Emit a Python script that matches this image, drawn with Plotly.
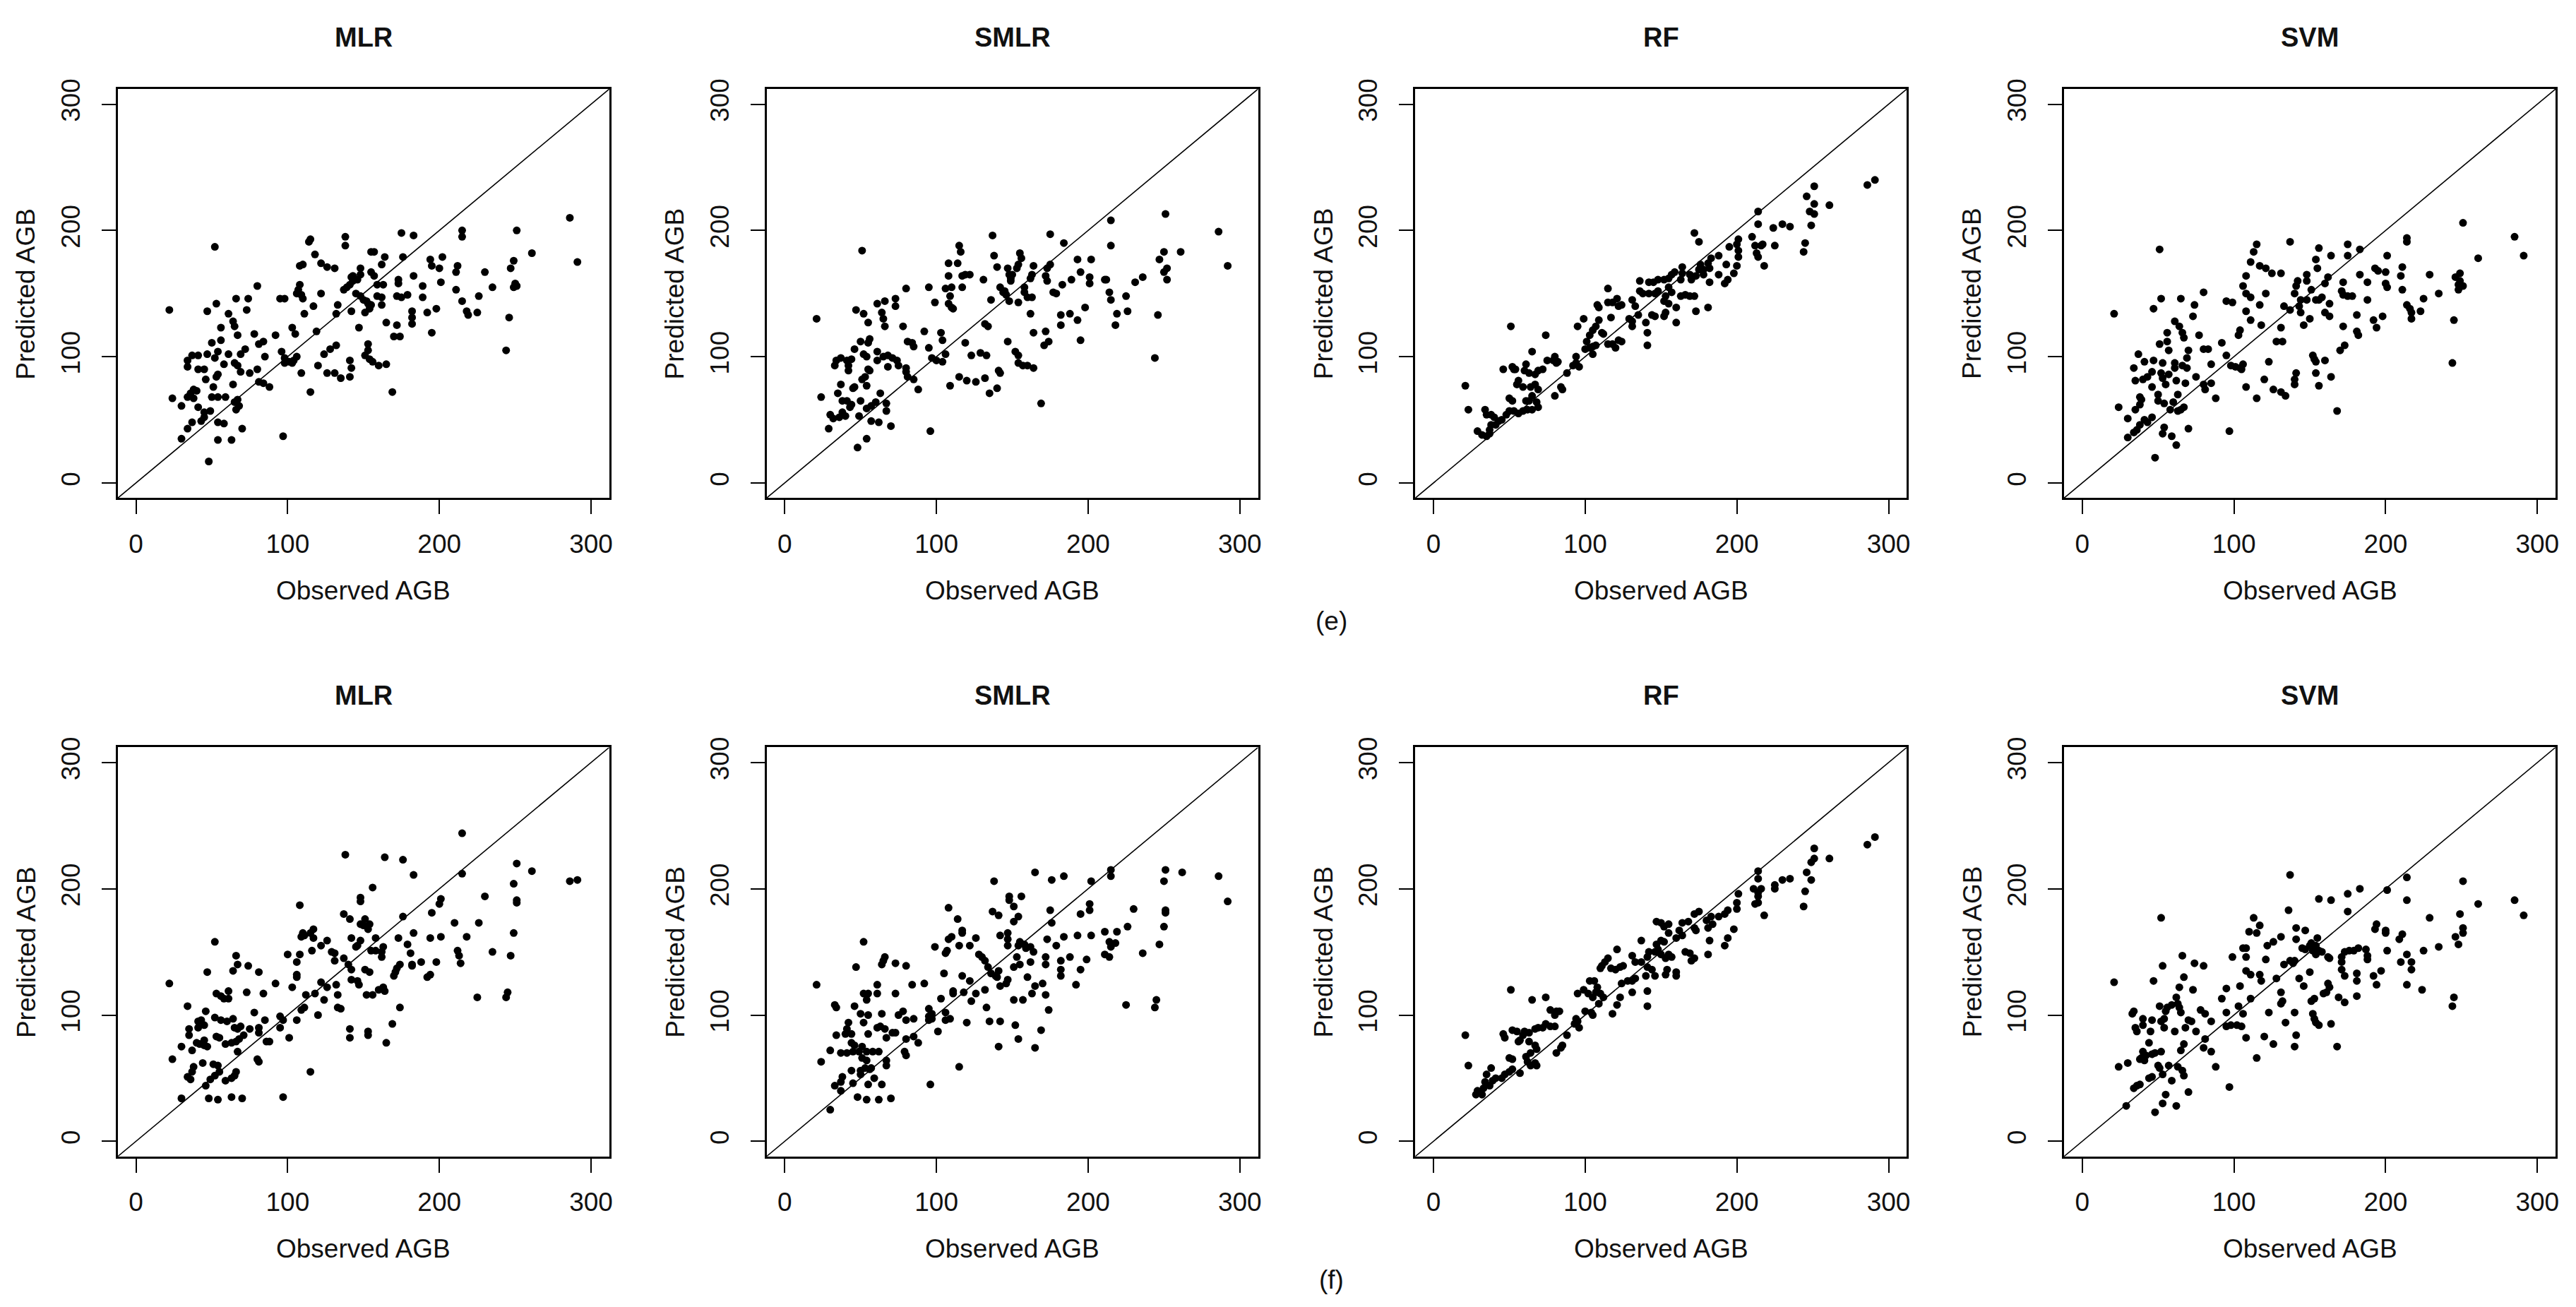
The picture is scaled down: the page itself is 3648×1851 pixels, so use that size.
import plotly.graph_objects as go

# ---------------- data ----------------
AX_RANGE = [-12, 312]
TICKS = [0, 100, 200, 300]
MODELS = ["MLR", "SMLR", "RF", "SVM"]
ROW_LABELS = ["(e)", "(f)"]
X_TITLE = "Observed AGB"
Y_TITLE = "Predicted AGB"

# (observed, predicted) pairs
MLR_E = [(286,210),(291,175),(261,182),(251,200),(249,176),(247,170),(250,158),(249,155),(251,156),(246,131),(244,105),(235,155),(230,167),(226,148),(225,135),(218,136),(219,133),(215,144),(211,153),(212,172),(211,167),(215,200),(215,195),(202,179),(200,170),(194,177),(195,172),(201,159),(198,138),(192,135),(195,119),(189,156),(189,147),(183,164),(183,196),(175,198),(176,179),(173,161),(173,158),(172,148),(175,147),(179,149),(182,136),(182,131),(182,126),(172,125),(170,116),(174,116),(165,127),(169,72),(164,179),(162,173),(155,183),(157,183),(155,167),(157,164),(159,157),(163,157),(162,141),(159,148),(162,147),(155,141),(154,138),(151,135),(148,170),(148,165),(146,161),(143,160),(141,157),(139,155),(137,153),(142,163),(143,164),(145,150),(148,148),(150,145),(152,144),(153,142),(142,136),(147,123),(138,195),(138,188),(131,170),(126,171),(122,174),(118,181),(115,193),(114,191),(110,173),(108,172),(108,157),(107,153),(106,150),(109,149),(110,146),(111,134),(117,140),(122,150),(133,141),(132,134),(119,120),(98,146),(95,146),(103,123),(105,118),(92,117),(96,104),(98,99),(101,96),(104,97),(106,100),(103,95),(98,95),(85,100),(80,90),(81,110),(84,112),(78,118),(80,156),(74,146),(73,137),(66,146),(61,134),(64,128),(65,124),(67,117),(53,142),(47,136),(52,187),(22,137),(24,67),(30,61),(30,35),(34,43),(37,48),(34,97),(37,101),(41,101),(34,92),(41,90),(45,90),(50,111),(56,123),(56,113),(47,102),(52,99),(54,104),(58,94),(61,102),(65,95),(69,102),(72,106),(67,93),(69,88),(54,86),(53,84),(46,82),(51,76),(38,74),(40,73),(36,71),(34,68),(38,67),(50,68),(54,68),(59,68),(65,64),(67,66),(68,61),(66,58),(41,60),(45,56),(49,57),(45,52),(43,49),(54,48),(58,47),(64,78),(75,87),(81,80),(84,79),(88,76),(54,34),(63,34),(70,43),(97,37),(48,17),(115,72),(109,87),(120,93),(124,102),(128,106),(132,109),(126,87),(131,87),(135,83),(141,84),(142,91),(141,97),(153,110),(153,105),(151,101),(154,98),(156,96),(160,93),(165,94)]

SMLR_E = [(251,213),(286,199),(292,172),(261,183),(250,183),(247,177),(252,170),(250,167),(252,161),(246,133),(244,99),(236,163),(231,159),(225,148),(226,136),(215,208),(215,188),(211,161),(212,161),(214,151),(215,145),(219,134),(218,125),(202,177),(193,177),(195,167),(201,163),(201,158),(189,161),(198,139),(193,129),(195,113),(188,134),(182,133),(182,125),(175,197),(184,190),(175,173),(173,170),(172,164),(173,160),(183,157),(177,151),(179,150),(164,172),(163,165),(162,162),(155,182),(156,178),(154,173),(153,170),(150,165),(149,162),(147,170),(148,165),(149,160),(142,155),(144,151),(146,149),(148,144),(145,152),(158,155),(158,151),(160,147),(163,147),(154,143),(136,145),(138,180),(137,196),(140,171),(131,161),(122,165),(119,165),(117,164),(117,155),(114,174),(108,174),(115,188),(116,183),(108,164),(106,154),(110,155),(109,148),(108,142),(110,139),(111,138),(99,143),(95,155),(80,154),(73,146),(73,140),(66,144),(64,135),(65,130),(66,124),(61,142),(55,127),(52,134),(47,137),(51,184),(21,130),(78,124),(92,120),(103,119),(104,113),(119,111),(132,126),(134,124),(147,112),(164,119),(172,120),(174,112),(171,109),(162,134),(81,112),(84,111),(85,108),(95,107),(97,99),(100,97),(104,96),(106,102),(56,114),(55,111),(50,112),(46,106),(52,102),(54,100),(61,104),(61,97),(65,100),(68,101),(71,99),(74,97),(75,93),(55,90),(56,89),(68,92),(44,98),(41,97),(34,97),(33,93),(37,99),(42,93),(42,89),(51,82),(53,84),(54,77),(46,76),(45,75),(37,78),(35,71),(24,68),(38,65),(41,65),(44,62),(43,60),(50,65),(63,71),(60,64),(57,61),(54,59),(67,63),(67,57),(80,91),(80,88),(81,84),(85,82),(88,74),(30,54),(32,51),(36,52),(40,53),(38,56),(49,53),(57,49),(62,48),(70,45),(29,43),(54,35),(48,28),(96,41),(109,77),(115,84),(120,81),(126,80),(132,83),(123,101),(129,103),(133,101),(141,89),(142,87),(135,71),(140,75),(152,104),(154,101),(154,95),(157,93),(160,93),(164,91),(169,63)]

RF_E = [(291,240),(286,236),(251,235),(246,227),(251,221),(248,215),(251,213),(249,204),(261,220),(245,190),(244,183),(235,203),(230,205),(224,202),(214,215),(214,205),(210,195),(212,188),(216,188),(217,189),(213,182),(214,179),(218,172),(225,188),(201,193),(200,189),(201,184),(201,179),(195,187),(193,173),(200,172),(198,166),(194,161),(192,158),(188,180),(183,178),(181,174),(182,170),(188,165),(182,159),(178,169),(178,165),(176,173),(175,169),(173,164),(172,198),(175,191),(170,161),(169,165),(164,171),(164,166),(163,161),(159,167),(157,165),(155,162),(152,161),(148,161),(145,159),(142,159),(136,160),(136,152),(138,150),(142,150),(146,150),(148,152),(155,155),(157,151),(153,148),(152,144),(155,142),(163,148),(166,149),(169,148),(172,148),(160,139),(173,136),(181,139),(153,135),(152,132),(146,132),(160,127),(144,133),(140,127),(141,119),(141,109),(131,145),(133,140),(129,130),(131,128),(131,124),(135,133),(121,146),(124,141),(122,140),(118,143),(115,143),(115,154),(109,139),(108,141),(117,131),(109,129),(107,124),(105,121),(103,117),(99,130),(95,124),(111,119),(112,118),(101,112),(105,108),(107,109),(103,107),(105,102),(100,106),(115,110),(118,110),(120,107),(124,112),(122,113),(94,100),(94,95),(96,92),(92,93),(88,87),(84,76),(85,74),(80,69),(74,117),(65,104),(51,124),(80,100),(79,97),(81,95),(82,96),(75,97),(72,90),(69,89),(67,86),(63,87),(61,94),(60,89),(52,92),(54,90),(53,90),(46,90),(56,81),(55,78),(59,76),(64,76),(67,78),(69,74),(65,69),(63,65),(61,65),(68,64),(69,60),(65,58),(62,58),(59,57),(56,55),(53,57),(50,57),(48,54),(50,67),(52,65),(21,77),(23,58),(34,58),(35,54),(38,54),(40,52),(43,49),(45,50),(41,46),(38,46),(37,42),(29,41),(32,38),(35,37),(37,39)]

SVM_E = [(251,206),(285,195),(291,180),(261,178),(249,166),(249,160),(248,157),(251,156),(248,153),(246,163),(245,129),(244,95),(235,150),(229,165),(225,146),(223,136),(214,194),(214,191),(211,171),(210,164),(211,153),(214,141),(216,138),(217,135),(217,130),(201,180),(193,170),(195,168),(200,167),(200,158),(201,155),(188,159),(188,145),(198,132),(192,129),(194,123),(183,185),(175,189),(175,180),(183,165),(172,159),(171,152),(172,149),(175,148),(178,148),(181,133),(172,124),(181,120),(182,117),(173,109),(170,105),(168,57),(164,180),(162,163),(160,158),(156,186),(154,177),(155,170),(148,165),(148,160),(142,160),(141,156),(140,150),(144,145),(148,145),(151,153),(154,145),(156,145),(158,147),(163,142),(160,135),(163,132),(150,130),(146,125),(143,140),(144,135),(137,137),(133,140),(137,191),(131,166),(125,166),(121,170),(117,172),(111,175),(113,183),(115,189),(108,164),(106,156),(108,150),(111,147),(121,150),(117,141),(108,136),(111,129),(118,125),(104,121),(103,117),(95,144),(99,143),(92,111),(95,101),(98,93),(101,92),(104,91),(106,94),(105,90),(131,123),(128,112),(132,112),(123,96),(108,76),(120,82),(126,74),(131,72),(134,69),(140,78),(140,82),(141,87),(152,101),(153,98),(154,96),(160,97),(154,87),(156,77),(164,84),(115,67),(97,41),(80,151),(74,141),(73,132),(77,117),(83,106),(80,106),(85,94),(65,146),(52,146),(47,138),(51,185),(21,134),(61,128),(64,124),(66,119),(67,115),(56,119),(56,112),(51,110),(57,105),(70,105),(37,102),(41,96),(47,97),(53,95),(61,95),(66,93),(69,99),(69,91),(34,91),(35,81),(40,82),(43,84),(46,88),(52,87),(53,83),(55,78),(57,86),(61,91),(62,81),(68,79),(75,84),(80,78),(81,74),(85,79),(88,67),(46,76),(38,68),(39,66),(38,62),(50,70),(50,65),(54,63),(60,64),(58,58),(63,70),(67,60),(65,58),(63,57),(24,60),(30,51),(35,58),(41,50),(43,48),(46,52),(38,46),(36,42),(34,40),(30,36),(54,44),(53,39),(59,37),(70,43),(62,30),(48,20)]

MLR_F = [(215,244),(138,227),(164,225),(176,223),(183,211),(215,212),(251,220),(261,214),(286,206),(291,207),(249,204),(251,191),(251,189),(230,194),(249,165),(247,147),(245,118),(244,114),(225,114),(235,150),(226,173),(218,162),(210,173),(212,151),(213,147),(214,141),(201,192),(200,188),(195,181),(201,162),(194,161),(198,142),(192,130),(194,132),(188,142),(182,140),(182,139),(183,165),(179,156),(181,149),(176,178),(173,161),(174,140),(172,137),(171,134),(170,131),(174,106),(169,93),(165,78),(163,122),(164,119),(160,120),(156,201),(158,161),(155,151),(158,151),(162,150),(163,154),(162,146),(151,176),(154,172),(153,168),(150,171),(148,172),(148,193),(148,190),(142,161),(137,180),(141,176),(148,159),(146,155),(145,154),(151,136),(154,134),(152,116),(156,116),(142,128),(146,127),(147,124),(140,140),(142,136),(137,145),(131,149),(131,143),(129,150),(126,159),(122,155),(117,161),(117,168),(115,165),(110,165),(109,162),(111,163),(108,187),(116,151),(108,148),(106,142),(100,148),(106,132),(106,130),(103,122),(92,125),(84,117),(81,134),(74,139),(67,140),(66,147),(64,135),(52,158),(47,134),(22,125),(34,107),(53,117),(56,115),(58,113),(61,119),(61,113),(73,118),(112,116),(118,117),(124,112),(122,126),(126,122),(132,124),(133,116),(111,106),(109,104),(106,96),(120,100),(133,106),(135,105),(95,99),(97,96),(95,90),(101,82),(85,96),(78,102),(81,90),(81,86),(75,89),(69,91),(67,89),(65,90),(71,84),(68,81),(66,79),(63,78),(59,77),(64,97),(60,95),(56,96),(52,98),(46,103),(53,83),(55,82),(41,95),(43,96),(45,92),(41,90),(35,89),(35,84),(40,78),(42,77),(45,80),(47,75),(45,76),(30,75),(37,72),(67,71),(86,79),(88,79),(80,65),(81,63),(24,65),(44,62),(51,61),(54,60),(55,55),(52,52),(49,49),(38,59),(37,55),(34,51),(36,49),(46,44),(59,48),(65,52),(66,55),(63,50),(30,34),(48,34),(54,33),(63,35),(70,34),(97,35),(115,55),(141,89),(141,82),(153,87),(153,84)]

SMLR_F = [(215,215),(215,210),(202,206),(251,215),(250,206),(262,213),(286,210),(292,190),(165,213),(176,207),(184,210),(138,206),(148,194),(148,191),(151,186),(154,178),(151,174),(156,194),(137,182),(141,179),(108,185),(114,176),(175,183),(176,173),(195,180),(201,188),(201,183),(230,184),(251,183),(251,181),(250,170),(226,170),(219,166),(211,166),(214,158),(218,157),(215,154),(202,163),(193,163),(184,162),(173,160),(179,155),(188,146),(199,144),(211,148),(214,146),(236,149),(247,156),(195,136),(192,124),(182,143),(182,136),(182,131),(172,146),(172,140),(162,142),(164,150),(162,154),(159,153),(158,156),(155,158),(154,155),(147,165),(147,160),(147,155),(142,163),(153,146),(151,138),(155,140),(160,130),(170,125),(165,123),(163,117),(172,116),(174,104),(141,135),(139,131),(140,130),(136,133),(134,138),(132,143),(130,146),(128,148),(147,128),(146,125),(142,123),(126,161),(122,155),(115,155),(117,165),(117,167),(110,162),(108,160),(107,151),(106,149),(99,154),(105,133),(117,131),(122,127),(132,120),(111,119),(118,118),(111,117),(126,117),(123,111),(103,113),(95,105),(97,101),(95,99),(97,97),(95,96),(106,102),(109,97),(106,96),(101,87),(92,125),(84,124),(80,139),(73,141),(66,146),(65,143),(64,140),(47,138),(52,158),(21,124),(61,124),(61,117),(55,117),(52,117),(54,112),(73,117),(33,108),(34,106),(46,107),(50,101),(55,100),(52,94),(64,101),(75,100),(78,103),(80,96),(85,97),(42,94),(41,89),(40,85),(44,85),(34,84),(55,85),(61,90),(63,91),(66,89),(67,82),(71,86),(73,86),(80,81),(85,83),(88,78),(44,78),(46,76),(51,75),(49,71),(45,71),(41,70),(37,70),(30,72),(54,71),(58,71),(62,71),(79,71),(80,68),(51,66),(54,64),(53,58),(56,57),(57,58),(50,56),(50,53),(67,64),(67,60),(24,63),(44,56),(38,51),(37,47),(33,44),(37,40),(45,46),(55,45),(59,50),(64,45),(48,35),(54,33),(62,33),(70,34),(30,25),(96,45),(115,59),(120,94),(135,95),(142,95),(152,92),(154,81),(141,75),(169,88),(165,74),(225,108),(245,112),(244,106),(151,112),(157,112),(133,106)]

RF_F = [(291,241),(286,235),(251,232),(251,224),(249,221),(261,224),(246,213),(249,207),(245,198),(244,186),(235,208),(230,207),(225,203),(225,200),(214,214),(214,208),(211,200),(214,197),(216,200),(214,194),(212,188),(214,189),(218,179),(201,196),(200,189),(200,184),(194,183),(192,180),(198,168),(194,161),(192,155),(188,178),(183,178),(180,175),(181,169),(184,172),(182,159),(181,148),(175,182),(172,180),(172,169),(173,167),(168,174),(164,173),(162,167),(160,161),(164,163),(155,172),(152,170),(150,173),(147,174),(155,165),(150,159),(147,156),(152,158),(148,152),(146,150),(150,148),(155,148),(153,145),(157,146),(166,150),(169,149),(172,145),(170,143),(142,150),(141,146),(137,159),(131,147),(133,142),(137,142),(141,138),(154,136),(153,132),(146,131),(144,136),(160,134),(160,131),(140,131),(133,129),(131,127),(128,127),(124,125),(121,152),(115,145),(113,142),(117,137),(120,136),(123,138),(125,139),(110,137),(111,139),(131,118),(141,119),(141,107),(123,114),(121,108),(118,101),(109,109),(112,114),(110,117),(107,118),(108,122),(106,127),(103,127),(99,120),(95,117),(102,117),(105,114),(100,103),(104,102),(105,100),(94,97),(95,95),(96,90),(93,93),(88,84),(85,76),(84,74),(81,70),(74,114),(65,112),(51,120),(77,104),(81,103),(80,100),(83,103),(74,93),(77,91),(80,91),(72,90),(69,90),(67,89),(63,86),(60,87),(59,84),(55,87),(52,88),(46,85),(47,82),(57,80),(56,79),(63,79),(67,76),(68,73),(64,70),(50,66),(52,65),(61,67),(62,63),(67,62),(68,60),(64,60),(57,54),(52,57),(50,55),(47,53),(45,50),(39,48),(41,50),(38,58),(35,53),(34,47),(37,44),(33,42),(29,40),(32,37),(28,37),(21,84),(23,60)]

SVM_F = [(137,211),(214,209),(251,206),(201,199),(183,200),(175,196),(156,192),(164,191),(214,191),(285,191),(261,188),(291,179),(249,180),(229,177),(136,183),(175,182),(113,177),(117,171),(115,165),(110,166),(141,169),(147,167),(141,160),(131,162),(126,158),(122,155),(108,153),(106,153),(108,146),(99,146),(121,144),(108,135),(111,132),(117,132),(118,127),(104,123),(95,121),(92,113),(111,113),(128,129),(133,140),(137,143),(140,143),(139,141),(143,129),(146,123),(150,134),(147,152),(150,155),(152,151),(151,157),(154,155),(155,161),(156,151),(158,150),(154,148),(145,153),(162,146),(163,145),(173,150),(176,151),(179,151),(182,153),(187,152),(188,147),(188,144),(171,146),(171,142),(171,136),(173,131),(181,133),(181,127),(181,115),(194,172),(193,168),(200,167),(200,165),(201,151),(197,135),(192,131),(194,124),(211,164),(209,160),(214,148),(210,142),(217,142),(217,136),(214,124),(224,120),(225,151),(235,154),(246,162),(251,165),(251,169),(248,156),(245,114),(244,107),(162,125),(163,122),(159,117),(161,118),(153,113),(151,111),(169,114),(173,110),(131,118),(132,111),(131,109),(123,102),(140,102),(152,101),(153,97),(154,94),(156,92),(164,93),(134,94),(141,84),(140,75),(168,75),(126,77),(120,83),(108,82),(115,66),(95,91),(98,92),(102,92),(105,91),(95,102),(106,101),(103,107),(97,43),(88,59),(85,71),(80,74),(81,81),(75,87),(85,95),(81,101),(78,104),(73,120),(80,139),(74,141),(66,147),(67,130),(53,139),(47,127),(52,177),(21,126),(64,122),(62,114),(63,109),(64,106),(65,102),(59,108),(56,106),(55,103),(51,107),(70,96),(72,95),(68,90),(54,97),(52,95),(54,90),(61,87),(46,96),(40,97),(40,92),(45,87),(34,103),(33,101),(35,90),(36,87),(44,78),(40,71),(39,66),(41,64),(38,65),(42,68),(46,69),(48,70),(52,71),(57,60),(63,59),(66,56),(67,52),(50,60),(51,58),(53,53),(46,51),(44,50),(65,72),(67,77),(24,59),(30,62),(34,42),(36,44),(38,45),(29,28),(59,48),(55,37),(53,30),(62,28),(70,39),(48,23)]

PANELS = [[MLR_E, SMLR_E, RF_E, SVM_E], [MLR_F, SMLR_F, RF_F, SVM_F]]

# ---------------- layout geometry (pixels) ----------------
W, H = 3648, 1851
BOX_L0, BOX_W, COL_STEP = 167, 697, 920
ROW_TOP, BOX_H = [112, 1052], 584
FONT = "Liberation Sans, Arial, Helvetica, sans-serif"
FS = 37

def px_x(p):
    return p / W

def px_y(p):
    return 1 - p / H

fig = go.Figure()
layout = {}
annotations = []
for r in range(2):
    top = ROW_TOP[r]
    bottom = top + BOX_H
    for c in range(4):
        k = r * 4 + c + 1
        sfx = "" if k == 1 else str(k)
        left = BOX_L0 + c * COL_STEP
        right = left + BOX_W
        pts = PANELS[r][c]
        xs = [p[0] for p in pts]
        ys = [p[1] for p in pts]
        fig.add_trace(go.Scatter(
            x=AX_RANGE, y=AX_RANGE, mode="lines",
            line=dict(color="black", width=1.6),
            xaxis="x" + sfx, yaxis="y" + sfx, showlegend=False, hoverinfo="skip"))
        fig.add_trace(go.Scatter(
            x=xs, y=ys, mode="markers",
            marker=dict(color="black", size=11, line=dict(width=0)),
            xaxis="x" + sfx, yaxis="y" + sfx, showlegend=False,
            name=MODELS[c]))
        common = dict(range=AX_RANGE, tickvals=TICKS, ticks="outside", ticklen=20,
                      tickwidth=2, tickcolor="black", showline=True, linecolor="black",
                      linewidth=3, mirror=True, showgrid=False, zeroline=False,
                      tickfont=dict(family=FONT, size=FS, color="#111"),
                      fixedrange=True)
        layout["xaxis" + sfx] = dict(common, domain=[px_x(left), px_x(right)],
                                      anchor="y" + sfx, ticklabelstandoff=10)
        layout["yaxis" + sfx] = dict(common, domain=[px_y(bottom), px_y(top)],
                                      anchor="x" + sfx, tickangle=-90, ticklabelstandoff=16)
        cx = (left + right) / 2
        annotations.append(dict(text="<b>%s</b>" % MODELS[c], x=px_x(cx), y=px_y(top - 74),
                                xref="paper", yref="paper", showarrow=False,
                                xanchor="center", yanchor="middle",
                                font=dict(family=FONT, size=38, color="#111")))
        annotations.append(dict(text=X_TITLE, x=px_x(cx), y=px_y(bottom + 132),
                                xref="paper", yref="paper", showarrow=False,
                                xanchor="center", yanchor="middle",
                                font=dict(family=FONT, size=FS, color="#111")))
        annotations.append(dict(text=Y_TITLE, x=px_x(left - 130), y=px_y((top + bottom) / 2),
                                xref="paper", yref="paper", showarrow=False, textangle=-90,
                                xanchor="center", yanchor="middle",
                                font=dict(family=FONT, size=FS, color="#111")))
    annotations.append(dict(text=ROW_LABELS[r], x=px_x(1888), y=px_y(bottom + 176),
                            xref="paper", yref="paper", showarrow=False,
                            xanchor="center", yanchor="middle",
                            font=dict(family=FONT, size=FS, color="#111")))

fig.update_layout(width=W, height=H, margin=dict(l=0, r=0, t=0, b=0),
                  paper_bgcolor="white", plot_bgcolor="white",
                  annotations=annotations, showlegend=False, **layout)
fig.write_html("out.html", config={"displayModeBar": False},
               post_script="document.body.style.margin='0px';document.body.style.overflow='hidden';")
